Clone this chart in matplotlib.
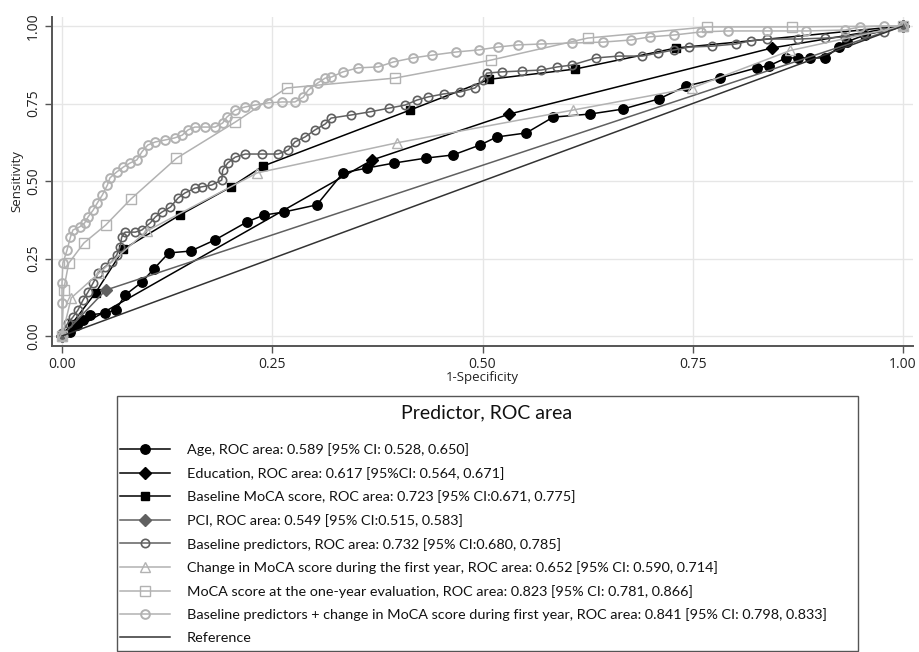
import matplotlib
matplotlib.use("Agg")
import matplotlib.pyplot as plt
from matplotlib.patches import Rectangle

# ---------------- data ----------------
age_x = [0, 0.0095, 0.018, 0.025, 0.033, 0.051, 0.064, 0.075, 0.095, 0.109, 0.127, 0.153,
         0.182, 0.220, 0.240, 0.264, 0.303, 0.334, 0.363, 0.395, 0.433, 0.465, 0.497, 0.517,
         0.552, 0.584, 0.628, 0.667, 0.710, 0.742, 0.782, 0.826, 0.841, 0.861, 0.875, 0.890,
         0.907, 0.924, 0.934, 0.955, 1.0]
age_y = [0, 0.013, 0.035, 0.052, 0.068, 0.074, 0.084, 0.132, 0.174, 0.216, 0.268, 0.274,
         0.310, 0.368, 0.390, 0.400, 0.423, 0.526, 0.542, 0.558, 0.574, 0.584, 0.616, 0.642,
         0.655, 0.706, 0.716, 0.732, 0.765, 0.806, 0.832, 0.865, 0.872, 0.897, 0.897, 0.897,
         0.897, 0.932, 0.950, 0.971, 1.0]

edu_x = [0, 0.369, 0.532, 0.844, 1.0]
edu_y = [0, 0.568, 0.716, 0.929, 1.0]

moca_base_x = [0, 0.012, 0.040, 0.073, 0.140, 0.201, 0.239, 0.414, 0.508, 0.610, 0.730, 1.0]
moca_base_y = [0, 0.040, 0.140, 0.280, 0.390, 0.481, 0.548, 0.729, 0.828, 0.861, 0.929, 1.0]

pci_x = [0, 0.052, 1.0]
pci_y = [0, 0.148, 1.0]

base_pred_x = [0, 0.007, 0.013, 0.019, 0.025, 0.031, 0.037, 0.043, 0.051, 0.059, 0.065, 0.069,
               0.071, 0.075, 0.087, 0.095, 0.105, 0.111, 0.119, 0.129, 0.138, 0.146, 0.158,
               0.166, 0.178, 0.190, 0.191, 0.197, 0.206, 0.218, 0.238, 0.257, 0.269, 0.277,
               0.289, 0.301, 0.313, 0.320, 0.344, 0.366, 0.389, 0.408, 0.422, 0.435, 0.454,
               0.473, 0.491, 0.501, 0.505, 0.523, 0.547, 0.570, 0.589, 0.606, 0.635, 0.662,
               0.690, 0.709, 0.728, 0.746, 0.773, 0.801, 0.819, 0.838, 0.875, 0.907, 0.931,
               0.954, 0.977, 1.0]
base_pred_y = [0.010, 0.042, 0.061, 0.084, 0.116, 0.142, 0.171, 0.203, 0.223, 0.239, 0.261, 0.287,
               0.319, 0.335, 0.335, 0.342, 0.365, 0.384, 0.400, 0.416, 0.445, 0.461, 0.477,
               0.481, 0.487, 0.503, 0.535, 0.558, 0.577, 0.587, 0.587, 0.587, 0.600, 0.626,
               0.642, 0.665, 0.684, 0.703, 0.713, 0.723, 0.735, 0.745, 0.761, 0.771, 0.781,
               0.787, 0.800, 0.826, 0.848, 0.852, 0.855, 0.858, 0.868, 0.874, 0.897, 0.903,
               0.903, 0.913, 0.923, 0.932, 0.935, 0.942, 0.952, 0.958, 0.958, 0.961, 0.965,
               0.977, 0.981, 1.0]

chg_x = [0, 0.011, 0.044, 0.101, 0.232, 0.398, 0.608, 0.749, 0.866, 1.0]
chg_y = [0, 0.123, 0.203, 0.339, 0.526, 0.623, 0.729, 0.800, 0.921, 1.0]

moca1_x = [0, 0.002, 0.008, 0.026, 0.052, 0.082, 0.136, 0.206, 0.267, 0.396, 0.510, 0.625,
           0.767, 0.868, 1.0]
moca1_y = [0, 0.150, 0.235, 0.300, 0.358, 0.442, 0.573, 0.690, 0.800, 0.832, 0.890, 0.961,
           0.997, 0.997, 1.0]

comb_x = [0, 0, 0, 0.001, 0.006, 0.010, 0.013, 0.021, 0.027, 0.031, 0.037, 0.042, 0.048,
          0.054, 0.057, 0.065, 0.073, 0.081, 0.089, 0.095, 0.102, 0.111, 0.122, 0.134,
          0.143, 0.150, 0.158, 0.170, 0.182, 0.191, 0.196, 0.206, 0.218, 0.229, 0.245,
          0.262, 0.277, 0.287, 0.293, 0.304, 0.313, 0.320, 0.334, 0.352, 0.376, 0.394,
          0.417, 0.440, 0.468, 0.496, 0.518, 0.542, 0.570, 0.606, 0.643, 0.677, 0.699,
          0.728, 0.760, 0.792, 0.838, 0.885, 0.931, 0.949, 0.977, 1.0]
comb_y = [0, 0.106, 0.171, 0.235, 0.277, 0.319, 0.342, 0.352, 0.365, 0.384, 0.406, 0.429, 0.455,
          0.487, 0.510, 0.529, 0.545, 0.558, 0.568, 0.594, 0.616, 0.626, 0.632, 0.639,
          0.648, 0.665, 0.674, 0.674, 0.674, 0.687, 0.706, 0.729, 0.739, 0.745, 0.752,
          0.755, 0.755, 0.771, 0.794, 0.816, 0.832, 0.835, 0.852, 0.865, 0.868, 0.884,
          0.897, 0.906, 0.916, 0.923, 0.932, 0.939, 0.942, 0.945, 0.948, 0.955, 0.965,
          0.971, 0.981, 0.984, 0.984, 0.984, 0.987, 0.997, 1.0, 1.0]

ref_x = [0, 1]
ref_y = [0, 1]

labels = [
    "Age, ROC area: 0.589 [95% CI: 0.528, 0.650]",
    "Education, ROC area: 0.617 [95%CI: 0.564, 0.671]",
    "Baseline MoCA score, ROC area: 0.723 [95% CI:0.671, 0.775]",
    "PCI, ROC area: 0.549 [95% CI:0.515, 0.583]",
    "Baseline predictors, ROC area: 0.732 [95% CI:0.680, 0.785]",
    "Change in MoCA score during the first year, ROC area: 0.652 [95% CI: 0.590, 0.714]",
    "MoCA score at the one-year evaluation, ROC area: 0.823 [95% CI: 0.781, 0.866]",
    "Baseline predictors + change in MoCA score during first year, ROC area: 0.841 [95% CI: 0.798, 0.833]",
    "Reference",
]
legend_title = "Predictor, ROC area"
axis_ticks = [0, 0.25, 0.5, 0.75, 1.0]
tick_labels = ["0.00", "0.25", "0.50", "0.75", "1.00"]

# ---------------- figure ----------------
W, H = 919, 652
fig = plt.figure(figsize=(W / 100, H / 100), dpi=100)
ax = fig.add_axes([52 / W, 1 - 346 / H, (913 - 52) / W, (346 - 17) / H])

BLACK = "#000000"
DARK = "#606060"
LIGHT = "#b2b2b2"
REF = "#333333"

lw = 1.1
handles = []
h, = ax.plot(age_x, age_y, color=BLACK, lw=lw, marker="o", ms=6.8, mfc=BLACK, mec=BLACK, zorder=3)
handles.append(h)
h, = ax.plot(edu_x, edu_y, color=BLACK, lw=lw, marker="D", ms=6, mfc=BLACK, mec=BLACK, zorder=3)
handles.append(h)
h, = ax.plot(moca_base_x, moca_base_y, color=BLACK, lw=lw, marker="s", ms=6, mfc=BLACK, mec=BLACK, zorder=3)
handles.append(h)
h, = ax.plot(pci_x, pci_y, color=DARK, lw=lw, marker="D", ms=6, mfc=DARK, mec=DARK, zorder=3)
handles.append(h)
h, = ax.plot(base_pred_x, base_pred_y, color=DARK, lw=lw, marker="o", ms=6, mfc="none", mec=DARK, mew=1.2, zorder=3)
handles.append(h)
h, = ax.plot(chg_x, chg_y, color=LIGHT, lw=lw, marker="^", ms=6.5, mfc="none", mec=LIGHT, mew=1.0, zorder=3)
handles.append(h)
h, = ax.plot(moca1_x, moca1_y, color=LIGHT, lw=lw, marker="s", ms=6.5, mfc="none", mec=LIGHT, mew=1.0, zorder=3)
handles.append(h)
h, = ax.plot(comb_x, comb_y, color=LIGHT, lw=lw, marker="o", ms=6.3, mfc="none", mec=LIGHT, mew=1.4, zorder=3)
handles.append(h)
h, = ax.plot(ref_x, ref_y, color=REF, lw=lw, zorder=3)
handles.append(h)

ax.set_xlim(-10 / 841, 1 + 10 / 841)
ax.set_ylim(-10 / 310, 1 + 9 / 310)
ax.set_xticks(axis_ticks)
ax.set_xticklabels(tick_labels, fontfamily="Open Sans", fontsize=10, color="#222222")
ax.set_yticks(axis_ticks)
ax.set_yticklabels(tick_labels, fontfamily="Open Sans", fontsize=10, color="#222222",
                   rotation=90, va="center")
ax.tick_params(axis="both", direction="out", length=5, width=1, color="#555555", pad=3)
ax.grid(True, color="#e6e6e6", lw=1)
ax.set_axisbelow(True)
for s in ["top", "right"]:
    ax.spines[s].set_visible(False)
for s in ["left", "bottom"]:
    ax.spines[s].set_color("#555555")
    ax.spines[s].set_linewidth(1.4)

ax.set_xlabel("1-Specificity", fontfamily="Open Sans", fontsize=9.5, labelpad=-1, color="#222222")
ax.set_ylabel("Sensitivity", fontfamily="Open Sans", fontsize=9.5, labelpad=2, color="#222222")

# ---------------- legend box ----------------
fig.patches.append(Rectangle((117 / W, 1 - 651 / H), 741 / W, 255 / H, transform=fig.transFigure,
                             fill=False, edgecolor="#555555", lw=1.0, zorder=1))
fig.text(487 / W, 1 - 413 / H, legend_title, ha="center", va="center",
         fontfamily="Lato", fontsize=14, color="#111111")
leg = fig.legend(handles, labels, loc="upper left", bbox_to_anchor=(120 / W, 1 - 443 / H),
                 borderaxespad=0, borderpad=0, frameon=False, ncol=1,
                 prop={"family": "Lato", "size": 10.4},
                 handlelength=3.46, handletextpad=1.18, labelspacing=0.74)
for t in leg.get_texts():
    t.set_color("#111111")

fig.savefig("out.png", dpi=100)
